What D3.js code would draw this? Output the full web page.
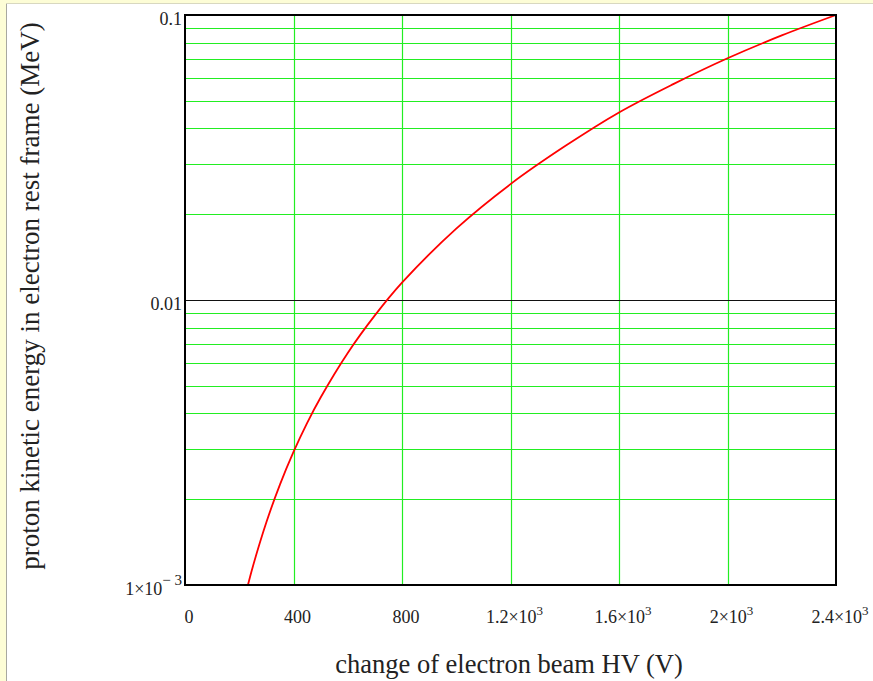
<!DOCTYPE html>
<html>
<head>
<meta charset="utf-8">
<script src="https://cdn.jsdelivr.net/npm/d3@7"></script>
<style>
  html, body { margin: 0; padding: 0; background: #ffffff; }
  svg { display: block; }
  text { font-family: "Liberation Serif", "Times New Roman", serif; fill: #222; }
</style>
</head>
<body>
<svg id="chart" width="873" height="681"></svg>
<script>
// HV change (V) and proton kinetic energy in the electron rest frame (MeV)
const hvChange = [232, 250, 300, 350, 400, 450, 500, 600, 700, 800, 1000, 1200, 1400, 1600, 1800, 2000, 2200, 2400];
const protonKE = [0.001, 0.00116, 0.00166, 0.00225, 0.00293, 0.0037, 0.00455, 0.00652, 0.00883, 0.0115, 0.0178, 0.0255, 0.0346, 0.0455, 0.0572, 0.0705, 0.0848, 0.1];

// axis ticks and their labels (base, superscript)
const xTicks = [0, 400, 800, 1200, 1600, 2000, 2400];
const xTickLabels = [["0", ""], ["400", ""], ["800", ""], ["1.2×10", "3"], ["1.6×10", "3"], ["2×10", "3"], ["2.4×10", "3"]];
const yTicks = [0.1, 0.01, 0.001];
const yTickLabels = [["0.1", ""], ["0.01", ""], ["1×10", "− 3"]];
const xGrid = [400, 800, 1200, 1600, 2000];
const yGridMinor = [0.002, 0.003, 0.004, 0.005, 0.006, 0.007, 0.008, 0.009,
                    0.02, 0.03, 0.04, 0.05, 0.06, 0.07, 0.08, 0.09];
const yGridMajor = [0.01];

const xTitle = "change of electron beam HV (V)";
const yTitle = "proton kinetic energy in electron rest frame (MeV)";

const svg = d3.select("#chart");
const W = 873, H = 681;
const plot = { left: 185, right: 836, top: 15, bottom: 585 };

// page frame
svg.append("rect").attr("x", 0).attr("y", 0).attr("width", W).attr("height", H).attr("fill", "#fdfdd6");
svg.append("rect").attr("x", 7).attr("y", 4).attr("width", W - 7).attr("height", H - 4).attr("fill", "#ffffff");
svg.append("line").attr("x1", 6.5).attr("x2", 6.5).attr("y1", 3.5).attr("y2", H).attr("stroke", "#a8a8a0").attr("stroke-width", 1);
svg.append("line").attr("x1", 6.5).attr("x2", W).attr("y1", 3.5).attr("y2", 3.5).attr("stroke", "#d8d8c0").attr("stroke-width", 1);

const x = d3.scaleLinear().domain([0, 2400]).range([plot.left, plot.right]);
const y = d3.scaleLog().domain([0.001, 0.1]).range([plot.bottom, plot.top]);

const g = svg.append("g");

// grid
g.selectAll("line.xgrid").data(xGrid).join("line")
  .attr("x1", d => Math.round(x(d)) + 0.5).attr("x2", d => Math.round(x(d)) + 0.5)
  .attr("y1", plot.top).attr("y2", plot.bottom)
  .attr("stroke", "#22ee22").attr("stroke-width", 1.2);
g.selectAll("line.ygrid").data(yGridMinor).join("line")
  .attr("x1", plot.left).attr("x2", plot.right)
  .attr("y1", d => Math.round(y(d)) + 0.5).attr("y2", d => Math.round(y(d)) + 0.5)
  .attr("stroke", "#22ee22").attr("stroke-width", 1.2);
g.selectAll("line.ymajor").data(yGridMajor).join("line")
  .attr("x1", plot.left).attr("x2", plot.right)
  .attr("y1", d => Math.round(y(d)) + 0.5).attr("y2", d => Math.round(y(d)) + 0.5)
  .attr("stroke", "#111").attr("stroke-width", 1);

// curve
const line = d3.line().x((d, i) => x(hvChange[i])).y(d => y(d)).curve(d3.curveCatmullRom.alpha(0.5));
g.append("path").datum(protonKE)
  .attr("d", line)
  .attr("fill", "none").attr("stroke", "#ff0000").attr("stroke-width", 1.8);

// frame
g.append("rect").attr("x", plot.left).attr("y", plot.top)
  .attr("width", plot.right - plot.left).attr("height", plot.bottom - plot.top)
  .attr("fill", "none").attr("stroke", "#000").attr("stroke-width", 2);

// x tick labels
const xl = g.selectAll("text.xt").data(xTicks).join("text")
  .attr("x", d => x(d) + 4).attr("y", 623)
  .attr("text-anchor", "middle").attr("font-size", 18);
xl.each(function (d, i) {
  const t = d3.select(this);
  t.append("tspan").text(xTickLabels[i][0]);
  if (xTickLabels[i][1]) t.append("tspan").attr("dy", -8).attr("font-size", 13).text(xTickLabels[i][1]);
});

// y tick labels
const yl = g.selectAll("text.yt").data(yTicks).join("text")
  .attr("x", plot.left - 3).attr("y", d => y(d) + 10)
  .attr("text-anchor", "end").attr("font-size", 18);
yl.each(function (d, i) {
  const t = d3.select(this);
  t.append("tspan").text(yTickLabels[i][0]);
  if (yTickLabels[i][1]) t.append("tspan").attr("dy", -10).attr("font-size", 15).text(yTickLabels[i][1]);
});

// axis titles
svg.append("text").attr("x", 509).attr("y", 673)
  .attr("text-anchor", "middle").attr("font-size", 26.5).text(xTitle);
svg.append("text").attr("transform", "translate(39,296) rotate(-90)")
  .attr("text-anchor", "middle").attr("font-size", 27).text(yTitle);
</script>
</body>
</html>
